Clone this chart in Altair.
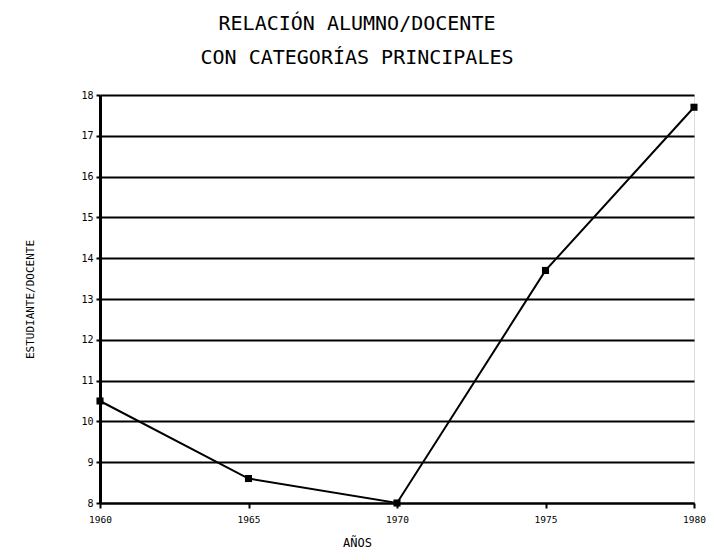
import altair as alt
import pandas as pd

years = [1960, 1965, 1970, 1975, 1980]
ratio = [10.5, 8.6, 8.0, 13.7, 17.7]
y_ticks = [8, 9, 10, 11, 12, 13, 14, 15, 16, 17, 18]
x_ticks = [1960, 1965, 1970, 1975, 1980]

df = pd.DataFrame({"year": years, "ratio": ratio})
FONT = "DejaVu Sans Mono"

x = alt.X("year:Q", title="AÑOS",
          scale=alt.Scale(domain=[1960, 1980], nice=False, zero=False),
          axis=alt.Axis(values=x_ticks, format="d", grid=False, labelFont=FONT,
                        labelFontSize=9.5, labelFlush=False, titleFont=FONT,
                        titleFontSize=12, titleFontWeight="normal", titleX=257,
                        titleY=34, titleAlign="center",
                        domainColor="black", domainWidth=2, tickColor="black",
                        tickWidth=2, tickSize=5, labelPadding=6, labelColor="black",
                        titleColor="black"))
y = alt.Y("ratio:Q", title="ESTUDIANTE/DOCENTE",
          scale=alt.Scale(domain=[8, 18], nice=False, zero=False),
          axis=alt.Axis(values=y_ticks, grid=True, gridColor="black", gridWidth=2,
                        gridOpacity=1, labelFont=FONT, labelFontSize=10,
                        labelFlush=False,
                        titleFont=FONT, titleFontSize=11, titleFontWeight="normal",
                        titleX=-65, titleY=204, titleAlign="center", titleAngle=270,
                        domainColor="black", domainWidth=3,
                        tickColor="black", tickWidth=2, tickSize=4, labelPadding=3,
                        labelColor="black", titleColor="black"))

line = alt.Chart(df).mark_line(color="black", strokeWidth=2).encode(x=x, y=y)
pts = alt.Chart(df).mark_point(shape="square", filled=True, color="black",
                               size=50, opacity=1).encode(x=x, y=y)

chart = (line + pts).properties(
    width=594, height=408,
    autosize=alt.AutoSizeParams(type="none"),
    padding={"left": 92, "top": 87, "right": 12, "bottom": 50},
    title=alt.TitleParams(["RELACIÓN ALUMNO/DOCENTE", "CON CATEGORÍAS PRINCIPALES"],
                          font=FONT, fontSize=20, fontWeight="normal", color="black",
                          anchor="middle", lineHeight=34, offset=22, dx=-40),
).configure_view(stroke="black", strokeWidth=2).configure(background="white")

chart.save("out.html", embed_options={"renderer": "svg", "actions": False})
